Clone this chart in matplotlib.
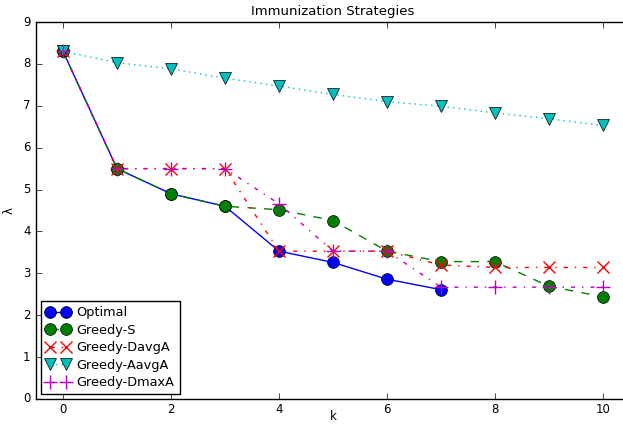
import numpy as np
import matplotlib
matplotlib.use('Agg')
import matplotlib.pyplot as plt

plt.style.use('classic')

k_opt = [0, 1, 2, 3, 4, 5, 6, 7]
optimal = [8.3, 5.5, 4.9, 4.6, 3.53, 3.26, 2.86, 2.61]

k_all = [0, 1, 2, 3, 4, 5, 6, 7, 8, 9, 10]
greedy_s = [8.3, 5.5, 4.9, 4.6, 4.52, 4.26, 3.53, 3.28, 3.28, 2.69, 2.44]
greedy_davga = [8.3, 5.5, 5.5, 5.5, 3.53, 3.53, 3.53, 3.2, 3.14, 3.14, 3.14]
greedy_aavga = [8.3, 8.03, 7.88, 7.66, 7.47, 7.27, 7.1, 6.99, 6.83, 6.69, 6.53]
greedy_dmaxa = [8.3, 5.5, 5.5, 5.5, 4.66, 3.53, 3.53, 2.67, 2.67, 2.67, 2.67]

fig = plt.figure(figsize=(6.23, 4.24), dpi=100, facecolor='white')
ax = fig.add_axes([36 / 623, 25 / 424, 594 / 623, 377 / 424])
ax.set_facecolor('white')

ax.plot(k_opt, optimal, 'bo-', markersize=8.5, label='Optimal')
ax.plot(k_all, greedy_s, 'go--', markersize=8.5, label='Greedy-S')
ax.plot(k_all, greedy_davga, 'rx-.', markersize=9, markeredgewidth=1, label='Greedy-DavgA')
ax.plot(k_all, greedy_aavga, 'cv:', markersize=8.5, label='Greedy-AavgA')
ax.plot(k_all, greedy_dmaxa, 'm+-.', markersize=10, markeredgewidth=1, label='Greedy-DmaxA')

ax.set_xlim(-0.5, 10.5)
ax.set_ylim(0, 9)
ax.set_xticks([0, 2, 4, 6, 8, 10])
ax.set_yticks(range(10))
ax.tick_params(labelsize=8.5)
ax.tick_params(axis='x', pad=3)
ax.set_xlabel('k', fontsize=8.5)
ax.xaxis.set_label_coords(0.5, -0.03)
ax.set_ylabel('λ', fontsize=8.5)
ax.set_title('Immunization Strategies', fontsize=9.5)

leg = ax.legend(loc='lower left', fontsize=9.3, numpoints=2, borderaxespad=0.35,
                handletextpad=0.5, labelspacing=0.35, handlelength=1.9)
leg.get_frame().set_edgecolor('black')

fig.savefig('out.png', dpi=100, facecolor='white')
